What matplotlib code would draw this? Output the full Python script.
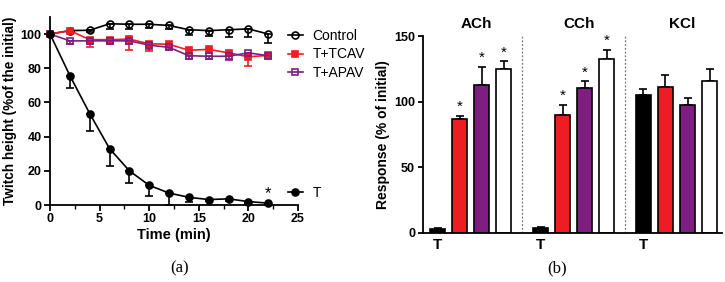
import numpy as np
import matplotlib
matplotlib.use('Agg')
import matplotlib.pyplot as plt
from matplotlib.lines import Line2D

plt.rcParams['font.family'] = ['Liberation Sans', 'DejaVu Sans']

# panel (a): twitch height over time
time = [0, 2, 4, 6, 8, 10, 12, 14, 16, 18, 20, 22]
control = [100, 102, 102.2, 106, 105.7, 105.7, 105, 102.5, 102, 102.5, 103, 100]
control_err = [0, 1, 1, 3, 3, 2, 2, 3, 3, 4.5, 4.5, 5]
tcav = [100, 102, 96.7, 96.7, 97, 94.3, 94, 90.5, 91, 89, 86.7, 87.5]
tcav_err = [0, 1, 4.5, 2, 6.5, 4, 2, 2, 2, 2, 5.5, 2]
apav = [100, 96, 96, 96, 96, 93.5, 92.2, 87.3, 87, 87, 89, 87.3]
apav_err = [0, 2, 2, 2, 2, 2, 1.5, 2, 1.5, 2, 1.5, 1.5]
t_only = [100, 75.7, 53.5, 33, 20, 11.5, 7, 4.5, 3.2, 3.6, 2, 1.1]
t_only_err = [0, 7, 10, 10, 7, 6, 7, 3, 1, 1, 1, 1]

# panel (b): responses per agonist
groups = ['ACh', 'CCh', 'KCl']
resp_t = [2.5, 3.5, 105]
resp_t_err = [1, 1, 4.8]
resp_tcav = [86.7, 89.5, 110.9]
resp_tcav_err = [2.5, 8, 9.6]
resp_apav = [112.6, 110.6, 97.4]
resp_apav_err = [14, 4.8, 5.3]
resp_ctrl = [124.8, 132.5, 115.9]
resp_ctrl_err = [5.9, 6.8, 9.2]
stars = [[False, True, True, True], [False, True, True, True], [False, False, False, False]]

RED = '#ee1d23'
PURPLE = '#7e1e80'

fig = plt.figure(figsize=(7.25, 2.82), dpi=100)

# ---------- panel (a)
ax1 = fig.add_axes([0.069, 0.273, 0.342, 0.667])
series = [
    (control, control_err, 'k', 'o', 'none', 'Control'),
    (tcav, tcav_err, RED, 's', RED, 'T+TCAV'),
    (apav, apav_err, PURPLE, 's', 'none', 'T+APAV'),
    (t_only, t_only_err, 'k', 'o', 'k', 'T'),
]
handles = []
for y, e, c, m, fc, lab in series:
    e = np.array(e)
    ax1.errorbar(time, y, yerr=[e, np.zeros_like(e)], color=c, marker=m,
                 mfc=fc, mec=c, ms=5, mew=1.2, lw=1.2, capsize=3,
                 elinewidth=1.2, capthick=1.2, clip_on=False)
    handles.append(Line2D([], [], color=c, marker=m, mfc=fc, mec=c, ms=5,
                          mew=1.2, lw=1.2, label=lab))
ax1.text(22, 2.5, '*', ha='center', va='bottom', fontsize=12)

ax1.set_xlim(0, 25)
ax1.set_ylim(0, 110)
ax1.set_xticks([0, 5, 10, 15, 20, 25])
ax1.set_xticks(np.arange(0, 25, 2.5), minor=True)
ax1.set_yticks([0, 20, 40, 60, 80, 100])
for s in ['top', 'right']:
    ax1.spines[s].set_visible(False)
for s in ['left', 'bottom']:
    ax1.spines[s].set_linewidth(1.3)
ax1.tick_params(width=1.3, length=4, labelsize=9, pad=2)
ax1.tick_params(which='minor', width=1.0, length=3)
for lab in ax1.get_xticklabels() + ax1.get_yticklabels():
    lab.set_fontweight('bold')
ax1.set_xlabel('Time (min)', fontsize=10.5, fontweight='bold', labelpad=2)
ax1.set_ylabel('Twitch height (%of the initial)', fontsize=9.8, fontweight='bold', labelpad=3)

leg1 = ax1.legend(handles=handles[:3], loc='upper left', bbox_to_anchor=(0.93, 0.975),
                  frameon=False, fontsize=10, handlelength=1.1, handletextpad=0.7,
                  labelspacing=0.35, borderaxespad=0.1)
ax1.add_artist(leg1)
ax1.legend(handles=handles[3:], loc='lower left', bbox_to_anchor=(0.93, -0.01),
           frameon=False, fontsize=10, handlelength=1.1, handletextpad=0.7,
           borderaxespad=0.1)

fig.text(0.248, 0.035, '(a)', fontsize=12, family='Liberation Serif', ha='center')

# ---------- panel (b)
ax2 = fig.add_axes([0.583, 0.175, 0.413, 0.697])
gap = 4.67
width = 0.7
cols = ['k', RED, PURPLE, 'white']
vals = [resp_t, resp_tcav, resp_apav, resp_ctrl]
errs = [resp_t_err, resp_tcav_err, resp_apav_err, resp_ctrl_err]
for gi, g in enumerate(groups):
    base = gi * gap
    for bi in range(4):
        x = base + bi
        v = vals[bi][gi]
        er = errs[bi][gi]
        ax2.bar(x, v, width=width, color=cols[bi], edgecolor='k', linewidth=1.2, zorder=2)
        ax2.errorbar(x, v, yerr=[[0], [er]], color='k', capsize=3, elinewidth=1.2,
                     capthick=1.2, zorder=1)
        if stars[gi][bi]:
            ax2.text(x, v + er + 1.5, '*', ha='center', va='bottom', fontsize=11)
    ax2.text(base + 1.75, 154, g, ha='center', va='bottom', fontsize=11,
             fontweight='bold', clip_on=False)
    ax2.text(base, -4, 'T', ha='center', va='top', fontsize=11, fontweight='bold')
for xl in [3.83, 3.83 + gap]:
    ax2.axvline(xl, color='0.45', ls=(0, (1.5, 1.5)), lw=0.9)

ax2.set_xlim(-0.68, 2 * gap + 3 + 0.57)
ax2.set_ylim(0, 150)
ax2.set_yticks([0, 50, 100, 150])
ax2.set_xticks([])
for s in ['top', 'right']:
    ax2.spines[s].set_visible(False)
for s in ['left', 'bottom']:
    ax2.spines[s].set_linewidth(1.3)
ax2.tick_params(width=1.3, length=3.5, labelsize=9, pad=2)
for lab in ax2.get_yticklabels():
    lab.set_fontweight('bold')
ax2.set_ylabel('Response (% of initial)', fontsize=10, fontweight='bold', labelpad=3)

fig.text(0.768, 0.035, '(b)', fontsize=12, family='Liberation Serif', ha='center')

fig.savefig('out.png', dpi=100)
